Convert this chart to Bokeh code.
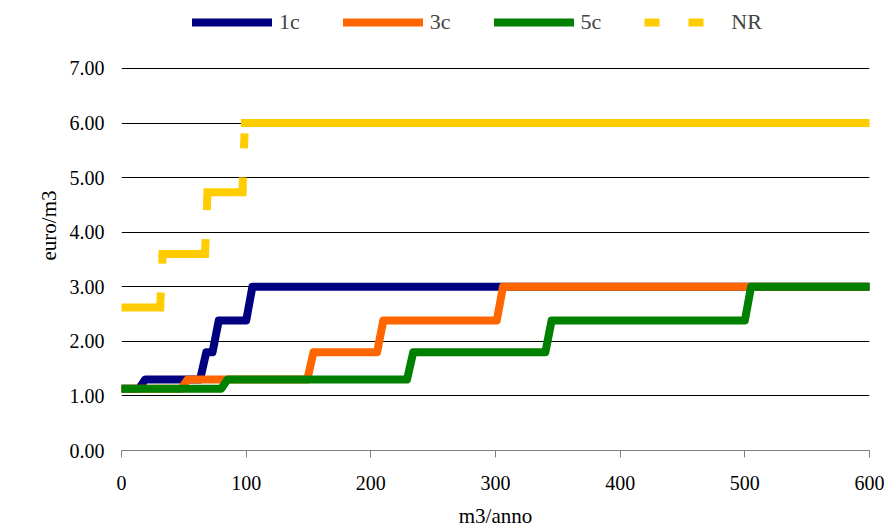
from bokeh.plotting import figure
from bokeh.models import Range1d, FixedTicker, PrintfTickFormatter, Legend, LegendItem
from bokeh.embed import file_html
from bokeh.resources import INLINE

# ---- data ----
x_max = 600
x_ticks = [0, 100, 200, 300, 400, 500, 600]
y_ticks = [0, 1, 2, 3, 4, 5, 6, 7]
y_top = 8.246   # plot area extends above the 7.00 gridline to hold the legend

# tariff levels (euro/m3) and consumptions (m3/anno) where each step up starts
levels_1c = [1.13, 1.30, 1.80, 2.38, 3.00]
breaks_1c = [14, 63, 73, 100]
levels_3c = [1.13, 1.30, 1.80, 2.38, 3.00]
breaks_3c = [48, 149, 205, 301]
levels_5c = [1.13, 1.30, 1.80, 2.38, 3.00]
breaks_5c = [80, 229, 340, 500]
levels_nr = [2.62, 3.60, 4.73, 6.00]
breaks_nr = [31, 67, 97]
rise_c = 5     # m3 over which a step climbs
rise_nr = 2

names = ["1c", "3c", "5c", "NR"]
colors = ["#000080", "#FF6600", "#008000", "#FFCC00"]


def step_path(levels, breaks, rise):
    xs, ys = [0], [levels[0]]
    for b, lo, hi in zip(breaks, levels[:-1], levels[1:]):
        xs += [b, b + rise]
        ys += [lo, hi]
    xs.append(x_max)
    ys.append(levels[-1])
    return xs, ys


def step_parts(levels, breaks, rise):
    starts = [0] + [b + rise for b in breaks]
    ends = list(breaks) + [x_max]
    hx = [[s, e] for s, e in zip(starts, ends)]
    hy = [[l, l] for l in levels]
    rx = [[b, b + rise] for b in breaks]
    ry = [[lo, hi] for lo, hi in zip(levels[:-1], levels[1:])]
    return hx, hy, rx, ry


p = figure(width=887, height=530, output_backend="svg", toolbar_location=None,
           x_range=Range1d(0, x_max), y_range=Range1d(0, y_top),
           min_border_left=121, min_border_right=18, min_border_top=0,
           min_border_bottom=80)
p.outline_line_color = None
p.background_fill_color = "white"
p.border_fill_color = "white"

FONT = "Liberation Serif"

# axes
p.xaxis.ticker = FixedTicker(ticks=x_ticks)
p.yaxis.ticker = FixedTicker(ticks=y_ticks)
p.yaxis.formatter = PrintfTickFormatter(format="%.2f")
p.xaxis.axis_label = "m3/anno"
p.yaxis.axis_label = "euro/m3"
for ax in (p.xaxis, p.yaxis):
    ax.major_label_text_font = FONT
    ax.major_label_text_font_size = "20px"
    ax.major_label_text_color = "black"
    ax.axis_label_text_font = FONT
    ax.axis_label_text_font_size = "21px"
    ax.axis_label_text_font_style = "normal"
    ax.axis_label_text_color = "black"
    ax.minor_tick_line_color = None
p.xaxis.axis_line_color = "#808080"
p.xaxis.major_tick_line_color = "#808080"
p.xaxis.major_tick_out = 7
p.xaxis.major_tick_in = 0
p.xaxis.major_label_standoff = 18
p.xaxis.axis_label_standoff = 11
p.yaxis.axis_line_color = None
p.yaxis.major_tick_line_color = None
p.yaxis.major_tick_out = 0
p.yaxis.major_tick_in = 0
p.yaxis.major_label_standoff = 17
p.yaxis.axis_label_standoff = 6

p.xgrid.grid_line_color = None
p.ygrid.grid_line_color = "black"
p.ygrid.grid_line_width = 1

renderers = []
for levels, breaks, color in zip([levels_1c, levels_3c, levels_5c],
                                 [breaks_1c, breaks_3c, breaks_5c], colors[:3]):
    xs, ys = step_path(levels, breaks, rise_c)
    r = p.line(xs, ys, line_color=color, line_width=8, line_join="round",
               line_cap="round")
    renderers.append(r)

hx, hy, rx, ry = step_parts(levels_nr, breaks_nr, rise_nr)
p.multi_line(hx, hy, line_color=colors[3], line_width=8, line_cap="square")
r_nr = p.multi_line(rx, ry, line_color=colors[3], line_width=8, line_cap="butt",
                    line_dash="15 29")
renderers.append(r_nr)

legend = Legend(items=[LegendItem(label=n, renderers=[r]) for n, r in zip(names, renderers)],
                orientation="horizontal", location=(71, 415),
                label_text_font=FONT, label_text_font_size="22px",
                glyph_width=80, glyph_height=20, label_standoff=7, spacing=43,
                padding=0, margin=0, border_line_alpha=0, background_fill_alpha=0)
p.add_layout(legend)

open("out.html", "w").write(file_html(p, INLINE))
